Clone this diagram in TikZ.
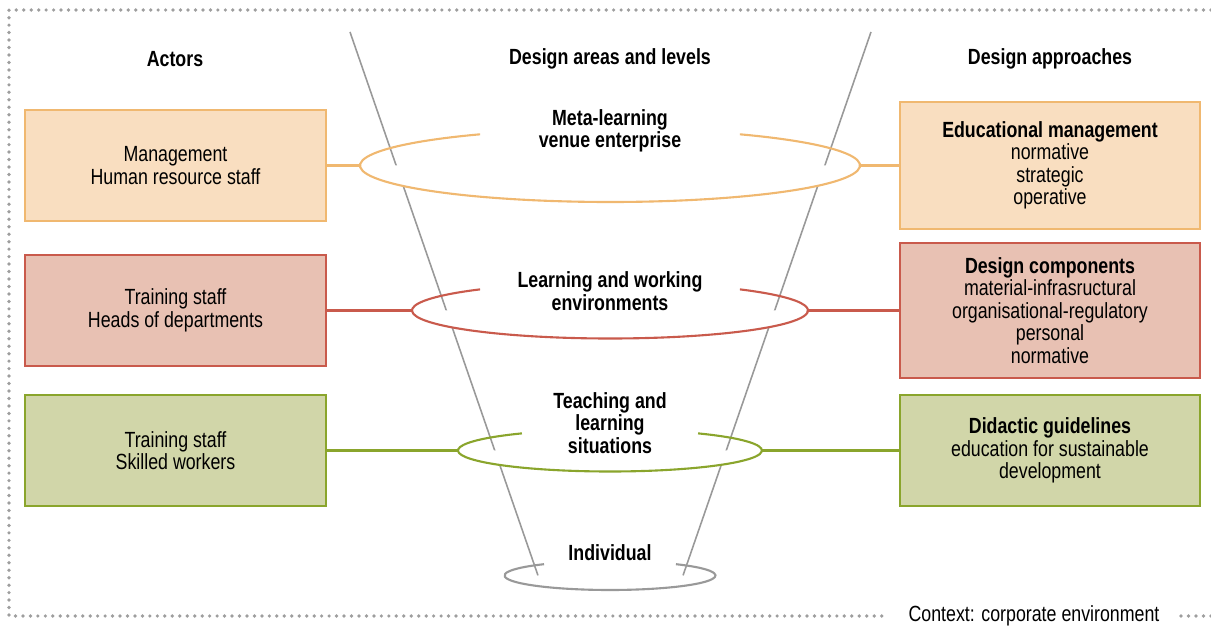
\documentclass[tikz,border=0pt]{standalone}
\usepackage{fontspec}
\setmainfont{Liberation Sans}[FakeStretch=0.81]
\usetikzlibrary{positioning,calc}

\definecolor{orangefill}{HTML}{F9DEC0}
\definecolor{orangeline}{HTML}{F0B870}
\definecolor{redfill}{HTML}{E8C1B3}
\definecolor{redline}{HTML}{C95A4C}
\definecolor{greenfill}{HTML}{D1D6A9}
\definecolor{greenline}{HTML}{8AA52C}
\definecolor{funnelgray}{HTML}{999999}
\definecolor{dotgray}{HTML}{9E9E9E}

\tikzset{
	txt/.style={font=\fontsize{12.5}{12.8}\selectfont, align=center, inner sep=0pt},
	head/.style={txt, font=\fontsize{12.5}{12.8}\selectfont\bfseries},
	box/.style={txt, draw, line width=1.2pt, minimum width=6cm, minimum height=2.22cm},
	link/.style={line width=1.2pt},
	rim/.style={line width=1.2pt},
	frame/.style={dotgray, line width=2.1pt, line cap=round, dash pattern=on 0pt off 4.25pt},
}

\begin{document}
\begin{tikzpicture}[x=0.02cm, y=0.02cm]
	\useasboundingbox (0,0) rectangle (1211,626);
	% dotted frame
	\draw[frame] (1211,616) -- (9,616) -- (9,10) -- (885,10);
	\draw[frame] (1181,10) -- (1211,10);
	\node[txt] (context) at (1034,10) {Context: corporate environment};

	% column heads
	\node[head] (actors) at (175,567) {Actors};
	\node[head] (areas) at (610,567) {Design areas and levels};
	\node[head] (approaches) at (1050,567) {Design approaches};

	% funnel sides
	\draw[funnelgray, line width=0.9pt] (350,594) -- (538,50.5);
	\draw[funnelgray, line width=0.9pt] (871,594) -- (683,50.5);

	% levels: name/y/x radius/y radius/gap angle/colour
	\foreach \n/\y/\rx/\ry/\t/\c in {lv1/460.5/250/36.5/121.3/orangeline,
		lv2/315.5/198/28/131/redline,
		lv3/175.5/152/21/125.4/greenline,
		lv4/50.5/105.5/14.5/128.7/funnelgray}
	{
		\coordinate (\n) at (610,\y);
		\coordinate (\n-w) at ($(\n)+(-\rx,0)$);
		\coordinate (\n-e) at ($(\n)+(\rx,0)$);
		\fill[white] (\n-w) arc[start angle=180, end angle=360, x radius=\rx, y radius=\ry] -- cycle;
		\draw[\c, rim] ($(\n)+({\rx*cos(\t)},{\ry*sin(\t)})$)
			arc[start angle=\t, end angle=540-\t, x radius=\rx, y radius=\ry];
	}

	% level labels
	\node[head] (meta) at (610,495) {Meta-learning\\venue enterprise};
	\node[head] (envir) at (610,335) {Learning and working\\environments};
	\node[head] (teach) at (610,203) {Teaching and\\learning\\situations};
	\node[head] (indiv) at (610,73) {Individual};

	% actors
	\node[box, draw=orangeline, fill=orangefill, minimum width=6.02cm] (mgmt) at (175.5,460.5) {Management\\Human resource staff};
	\node[box, draw=redline, fill=redfill, minimum width=6.02cm] (heads) at (175.5,315.5) {Training staff\\Heads of departments};
	\node[box, draw=greenline, fill=greenfill, minimum width=6.02cm] (skilled) at (175.5,175.5) {Training staff\\Skilled workers};

	% approaches
	\node[box, draw=orangeline, fill=orangefill, minimum height=2.54cm] (edu) at (1050,460.5) {\textbf{Educational management}\\normative\\strategic\\operative};
	\node[box, draw=redline, fill=redfill, minimum height=2.7cm] (comp) at (1050,315.5) {\textbf{Design components}\\material-infrasructural\\organisational-regulatory\\personal\\normative};
	\node[box, draw=greenline, fill=greenfill] (didac) at (1050,175.5) {\textbf{Didactic guidelines}\\education for sustainable\\development};

	% links
	\draw[link, orangeline] (mgmt.east) -- (lv1-w);
	\draw[link, orangeline] (lv1-e) -- (edu.west);
	\draw[link, redline] (heads.east) -- (lv2-w);
	\draw[link, redline] (lv2-e) -- (comp.west);
	\draw[link, greenline] (skilled.east) -- (lv3-w);
	\draw[link, greenline] (lv3-e) -- (didac.west);
\end{tikzpicture}
\end{document}
